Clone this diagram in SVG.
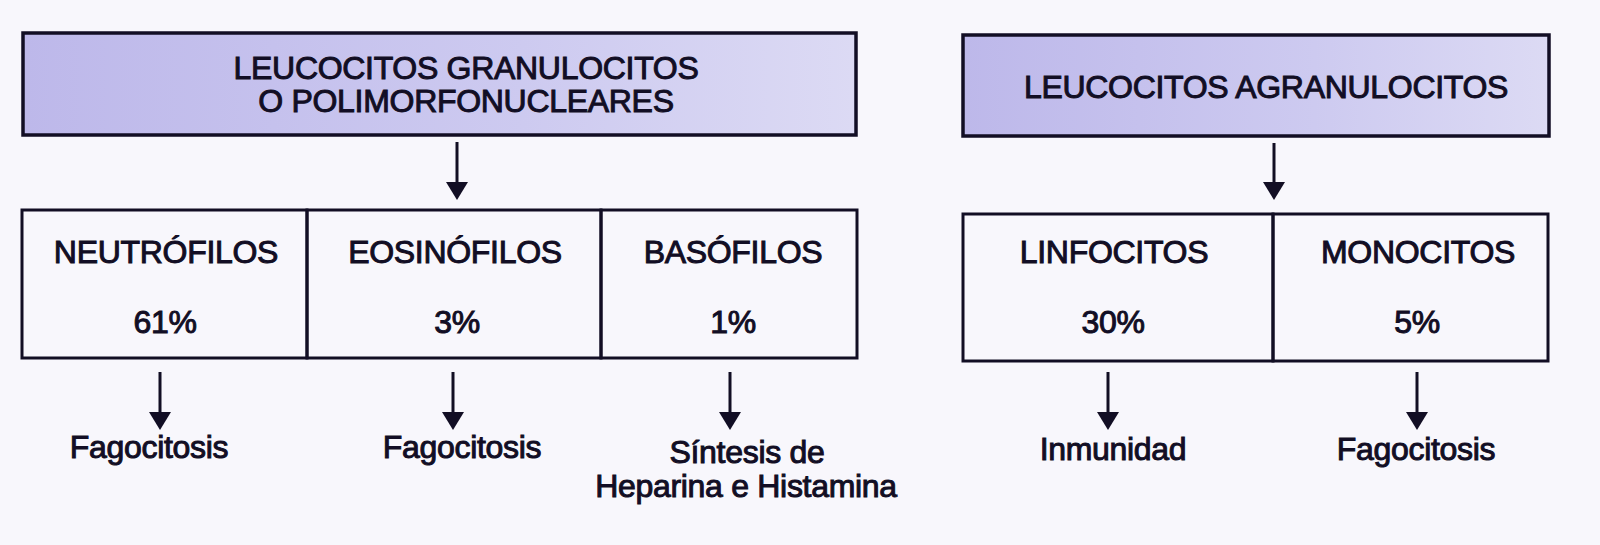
<svg xmlns="http://www.w3.org/2000/svg" width="1600" height="545" viewBox="0 0 1600 545">
  <defs>
    <linearGradient id="hdr" x1="0" y1="0" x2="1" y2="0">
      <stop offset="0" stop-color="#bdb8ea"/>
      <stop offset="0.6" stop-color="#cdcaf0"/>
      <stop offset="1" stop-color="#dcdaf4"/>
    </linearGradient>
    <marker id="arr" markerUnits="userSpaceOnUse" viewBox="0 0 18 22" markerWidth="18" markerHeight="22" refX="2" refY="11" orient="auto">
      <path d="M0,0 L18,11 L0,22 z" fill="#120e24"/>
    </marker>
  </defs>
  <style>
    .hdr { fill: url(#hdr); stroke: #120e24; stroke-width: 3.5; }
    .cell { fill: none; stroke: #120e24; stroke-width: 3; }
    .t { font-family: "Liberation Sans", Arial, sans-serif; font-size: 32px; fill: #120e24; stroke: #120e24; stroke-width: 1; text-anchor: middle; letter-spacing: -0.3px; }
    .c { stroke: #120e24; stroke-width: 3; fill: none; marker-end: url(#arr); }
  </style>
  <rect width="1600" height="545" fill="#f8f7fc"/>

  <g id="granulocitos">
    <rect class="hdr" x="23" y="33" width="833" height="102"/>
    <text class="t" x="466" y="79">LEUCOCITOS GRANULOCITOS</text>
    <text class="t" x="466" y="112">O POLIMORFONUCLEARES</text>
  </g>
  <g id="agranulocitos">
    <rect class="hdr" x="963" y="35" width="586" height="101"/>
    <text class="t" x="1266" y="98">LEUCOCITOS AGRANULOCITOS</text>
  </g>

  <g id="neutrofilos">
    <rect class="cell" x="22" y="210" width="285" height="148"/>
    <text class="t" x="166" y="263">NEUTRÓFILOS</text>
    <text class="t" x="165" y="333">61%</text>
  </g>
  <g id="eosinofilos">
    <rect class="cell" x="307" y="210" width="294" height="148"/>
    <text class="t" x="455" y="263">EOSINÓFILOS</text>
    <text class="t" x="457" y="333">3%</text>
  </g>
  <g id="basofilos">
    <rect class="cell" x="601" y="210" width="256" height="148"/>
    <text class="t" x="733" y="263">BASÓFILOS</text>
    <text class="t" x="733" y="333">1%</text>
  </g>
  <g id="linfocitos">
    <rect class="cell" x="963" y="214" width="310" height="147"/>
    <text class="t" x="1114" y="263">LINFOCITOS</text>
    <text class="t" x="1113" y="333">30%</text>
  </g>
  <g id="monocitos">
    <rect class="cell" x="1273" y="214" width="275" height="147"/>
    <text class="t" x="1418" y="263">MONOCITOS</text>
    <text class="t" x="1417" y="333">5%</text>
  </g>

  <g id="fagocitosis-1">
    <text class="t" x="149" y="458">Fagocitosis</text>
  </g>
  <g id="fagocitosis-2">
    <text class="t" x="462" y="458">Fagocitosis</text>
  </g>
  <g id="sintesis">
    <text class="t" x="747" y="463">Síntesis de</text>
    <text class="t" x="746" y="497">Heparina e Histamina</text>
  </g>
  <g id="inmunidad">
    <text class="t" x="1113" y="460">Inmunidad</text>
  </g>
  <g id="fagocitosis-3">
    <text class="t" x="1416" y="460">Fagocitosis</text>
  </g>

  <g id="connectors">
    <line class="c" x1="457" y1="142" x2="457" y2="184"/>
    <line class="c" x1="1274" y1="143" x2="1274" y2="184"/>
    <line class="c" x1="160" y1="372" x2="160" y2="414"/>
    <line class="c" x1="453" y1="372" x2="453" y2="414"/>
    <line class="c" x1="730" y1="372" x2="730" y2="414"/>
    <line class="c" x1="1108" y1="372" x2="1108" y2="414"/>
    <line class="c" x1="1417" y1="372" x2="1417" y2="414"/>
  </g>
</svg>
